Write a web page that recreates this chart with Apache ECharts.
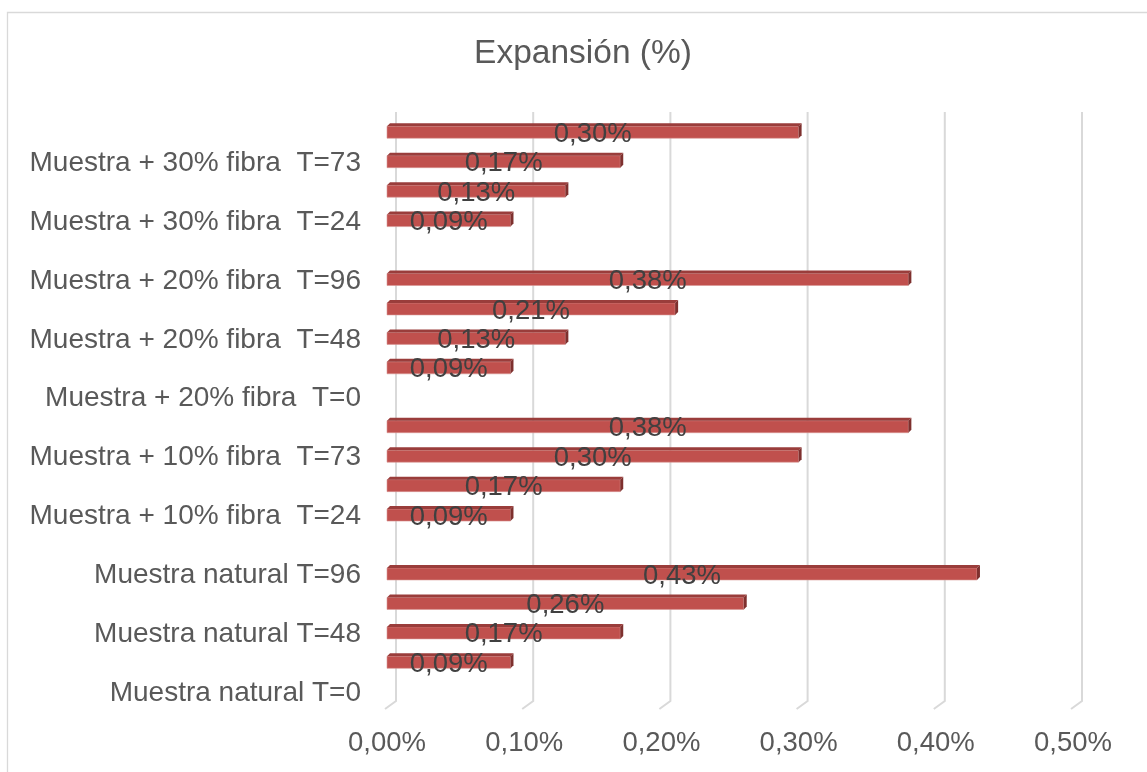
<!DOCTYPE html>
<html lang="es">
<head>
    <meta charset="UTF-8">
    <title>Expansión (%)</title>
    <script src="https://cdn.jsdelivr.net/npm/echarts@6/dist/echarts.min.js"></script>
</head>
<body style="margin: 0; background: #fff">
    <div id="chart" style="width: 1147px; height: 772px;"></div>
    <script>
        // categorías de abajo hacia arriba
        const categorias = [
            'Muestra natural T=0', 'Muestra natural T=24', 'Muestra natural T=48', 'Muestra natural T=73', 'Muestra natural T=96',
            'Muestra + 10% fibra  T=0', 'Muestra + 10% fibra  T=24', 'Muestra + 10% fibra  T=48', 'Muestra + 10% fibra  T=73', 'Muestra + 10% fibra  T=96',
            'Muestra + 20% fibra  T=0', 'Muestra + 20% fibra  T=24', 'Muestra + 20% fibra  T=48', 'Muestra + 20% fibra  T=73', 'Muestra + 20% fibra  T=96',
            'Muestra + 30% fibra  T=0', 'Muestra + 30% fibra  T=24', 'Muestra + 30% fibra  T=48', 'Muestra + 30% fibra  T=73', 'Muestra + 30% fibra  T=96'
        ];
        // expansión en %
        const expansion = [
            0, 0.09, 0.17, 0.26, 0.43,
            0, 0.09, 0.17, 0.30, 0.38,
            0, 0.09, 0.13, 0.21, 0.38,
            0, 0.09, 0.13, 0.17, 0.30
        ];
        const ticksX = [0, 0.1, 0.2, 0.3, 0.4, 0.5];

        const fuente = "'Liberation Sans', Arial, sans-serif";
        const gris = '#595959';
        const fmt = v => v.toFixed(2).replace('.', ',') + '%';

        const myChart = echarts.init(document.getElementById('chart'));

        const option = {
            animation: false,
            textStyle: { fontFamily: fuente },
            title: {
                text: 'Expansión (%)',
                left: 578,
                textAlign: 'center',
                top: 32,
                textStyle: { fontFamily: fuente, fontSize: 33.5, fontWeight: 'normal', color: gris }
            },
            graphic: [{
                type: 'rect',
                shape: { x: 7.5, y: 12.5, width: 1300, height: 900 },
                style: { fill: 'none', stroke: '#d9d9d9', lineWidth: 1.3 },
                silent: true
            }],
            grid: { left: 387, right: 74, top: 116, bottom: 67 },
            xAxis: {
                type: 'value',
                min: 0,
                max: 0.5,
                interval: 0.1,
                axisLine: { show: false },
                axisTick: { show: false },
                splitLine: { show: false },
                axisLabel: {
                    formatter: fmt,
                    fontFamily: fuente,
                    fontSize: 27.5,
                    color: gris,
                    margin: 24
                }
            },
            yAxis: {
                type: 'category',
                data: categorias,
                axisLine: { show: false },
                axisTick: { show: false },
                axisLabel: {
                    interval: 1,
                    margin: 26,
                    formatter: v => '{c|' + v + '}',
                    rich: {
                        c: {
                            fontFamily: fuente,
                            fontSize: 28,
                            color: gris,
                            padding: [6, 0, 0, 0]
                        }
                    }
                }
            },
            series: [
                {
                    // líneas de división sobre la pared del fondo (3D)
                    type: 'custom',
                    silent: true,
                    z: 1,
                    data: ticksX.map(v => [v, 0]),
                    renderItem: function (params, api) {
                        const x = api.coord([api.value(0), 0])[0];
                        const cs = params.coordSys;
                        const yb = cs.y + cs.height;
                        return {
                            type: 'polyline',
                            shape: { points: [[x + 9, cs.y - 4], [x + 9, yb - 4], [x - 2, yb + 4]] },
                            style: { fill: 'none', stroke: '#d9d9d9', lineWidth: 2 }
                        };
                    }
                },
                {
                    type: 'custom',
                    z: 2,
                    data: expansion.map((v, i) => [v, i]),
                    renderItem: function (params, api) {
                        const v = api.value(0);
                        if (!v) return null;
                        const i = api.value(1);
                        const x0 = api.coord([0, i])[0];
                        const p = api.coord([v, i]);
                        const x1 = p[0];
                        const cy = p[1];
                        const d = 3;
                        return {
                            type: 'group',
                            children: [
                                {
                                    type: 'rect',
                                    shape: { x: x0, y: cy - 4.5, width: x1 - x0, height: 12 },
                                    style: { fill: '#C0504D', stroke: '#D99694', lineWidth: 0.6 }
                                },
                                {
                                    type: 'polygon',
                                    shape: { points: [[x0, cy - 4.5], [x1, cy - 4.5], [x1 + d, cy - 4.5 - d], [x0 + d, cy - 4.5 - d]] },
                                    style: { fill: '#9A3D3B' }
                                },
                                {
                                    type: 'polygon',
                                    shape: { points: [[x1, cy - 4.5], [x1 + d, cy - 4.5 - d], [x1 + d, cy + 7.5 - d], [x1, cy + 7.5]] },
                                    style: { fill: '#7E302E' }
                                },
                                {
                                    type: 'text',
                                    z2: 10,
                                    style: {
                                        x: (x0 + x1) / 2,
                                        y: cy + 3.5,
                                        text: fmt(v),
                                        align: 'center',
                                        verticalAlign: 'middle',
                                        fontFamily: fuente,
                                        fontSize: 27.5,
                                        fill: '#404040'
                                    }
                                }
                            ]
                        };
                    }
                }
            ]
        };

        myChart.setOption(option);
    </script>
</body>
</html>
